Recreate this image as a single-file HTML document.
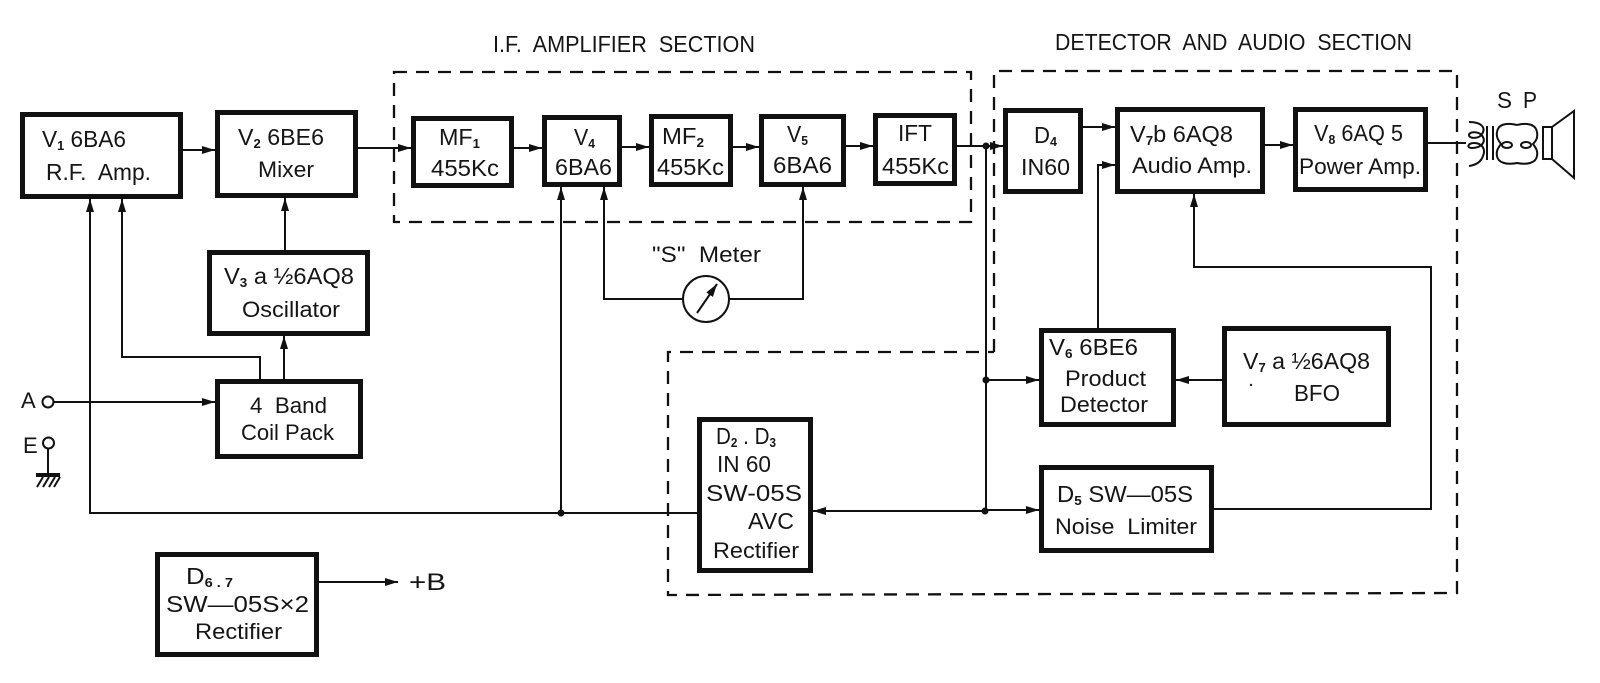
<!DOCTYPE html>
<html><head><meta charset="utf-8"><title>Receiver block diagram</title>
<style>
html,body{margin:0;padding:0;background:#fff;width:1600px;height:683px;overflow:hidden}
svg{display:block}
text{font-family:"Liberation Sans",sans-serif;font-size:23px;fill:#151515;white-space:pre}
.b{fill:#fff;stroke:#111;stroke-width:5}
.l{fill:none;stroke:#111;stroke-width:2}
.h{fill:none;stroke:#111;stroke-width:2}
.d{fill:none;stroke:#111;stroke-width:2.3;stroke-dasharray:13 9}
.s{font-size:13px;font-weight:bold}
</style></head><body>
<svg width="1600" height="683" viewBox="0 0 1600 683" xmlns="http://www.w3.org/2000/svg">
<defs><marker id="a" markerUnits="userSpaceOnUse" markerWidth="14" markerHeight="10" refX="13" refY="5" orient="auto"><path d="M0 1 L13 5 L0 9 Z" fill="#111"/></marker></defs>

<!-- dashed sections -->
<path class="d" d="M394 72 H971 V222 H394 Z"/>
<path class="d" d="M994 352 V71 H1457 V593 L668 595 V352 H994"/>

<!-- connectors -->
<g class="l">
<path d="M183 150 H215" marker-end="url(#a)"/>
<path d="M358 148 H411" marker-end="url(#a)"/>
<path d="M285 250 V198" marker-end="url(#a)"/>
<path d="M284 379 V336" marker-end="url(#a)"/>
<path d="M260 379 V357 H122 V199" marker-end="url(#a)"/>
<path d="M697 513 H90 V199" marker-end="url(#a)"/>
<path d="M53 402 H215" marker-end="url(#a)"/>
<path d="M319 582 H398" marker-end="url(#a)"/>
<path d="M514 148 H542" marker-end="url(#a)"/>
<path d="M622 147 H649" marker-end="url(#a)"/>
<path d="M733 147 H759" marker-end="url(#a)"/>
<path d="M846 146 H873" marker-end="url(#a)"/>
<path d="M957 146 H1003" marker-end="url(#a)"/>
<path d="M561 513 V187" marker-end="url(#a)"/>
<path d="M683 299 H604 V187" marker-end="url(#a)"/>
<path d="M729 299 H803 V187" marker-end="url(#a)"/>
<path d="M986 146 V511"/>
<path d="M986 380 H1039" marker-end="url(#a)"/>
<path d="M985 510 H1039" marker-end="url(#a)"/>
<path d="M985 511 H813" marker-end="url(#a)"/>
<path d="M1222 380 H1176" marker-end="url(#a)"/>
<path d="M1083 127 H1115" marker-end="url(#a)"/>
<path d="M1098 328 V165 H1115" marker-end="url(#a)"/>
<path d="M1265 145 H1293" marker-end="url(#a)"/>
<path d="M1214 509 H1431 V267 H1194 V194" marker-end="url(#a)"/>
<path d="M1428 143 H1466"/>
</g>
<circle cx="561" cy="513" r="3.5" fill="#111"/>
<circle cx="986" cy="146" r="3.5" fill="#111"/>
<circle cx="986" cy="380" r="3.5" fill="#111"/>
<circle cx="985" cy="511" r="3.5" fill="#111"/>

<!-- boxes (outer edge inset by half stroke) -->
<rect class="b" x="22.500" y="114.500" width="158" height="82"/>
<rect class="b" x="217.500" y="112.500" width="138" height="83"/>
<rect class="b" x="209.500" y="252.500" width="158" height="81"/>
<rect class="b" x="217.500" y="381.500" width="143" height="75"/>
<rect class="b" x="157.500" y="554.500" width="159" height="100"/>
<rect class="b" x="413.500" y="118.500" width="98" height="67"/>
<rect class="b" x="544.500" y="117.500" width="75" height="67"/>
<rect class="b" x="651.500" y="116.500" width="79" height="68"/>
<rect class="b" x="761.500" y="116.500" width="82" height="68"/>
<rect class="b" x="875.500" y="115.500" width="79" height="68"/>
<rect class="b" x="1005.500" y="110.500" width="75" height="81"/>
<rect class="b" x="1117.500" y="109.500" width="145" height="82"/>
<rect class="b" x="1295.500" y="109.500" width="130" height="80"/>
<rect class="b" x="1041.500" y="330.500" width="132" height="94"/>
<rect class="b" x="1224.500" y="328.500" width="164" height="96"/>
<rect class="b" x="1041.500" y="467.500" width="170" height="83"/>
<rect class="b" x="699.500" y="419.500" width="111" height="151"/>

<!-- titles -->
<text x="493" y="52" textLength="262" lengthAdjust="spacingAndGlyphs">I.F.  AMPLIFIER  SECTION</text>
<text x="1055" y="50" textLength="357" lengthAdjust="spacingAndGlyphs">DETECTOR  AND  AUDIO  SECTION</text>

<!-- labels -->
<text x="42" y="147" textLength="84" lengthAdjust="spacingAndGlyphs">V<tspan class="s" dy="3">1</tspan><tspan dy="-3"> 6BA6</tspan></text>
<text x="46" y="180" textLength="105" lengthAdjust="spacingAndGlyphs">R.F.  Amp.</text>
<text x="238" y="145" textLength="86" lengthAdjust="spacingAndGlyphs">V<tspan class="s" dy="3">2</tspan><tspan dy="-3"> 6BE6</tspan></text>
<text x="258" y="177" textLength="56" lengthAdjust="spacingAndGlyphs" style="font-size:22px">Mixer</text>
<text x="224" y="284" textLength="130" lengthAdjust="spacingAndGlyphs">V<tspan class="s" dy="3">3</tspan><tspan dy="-3"> a ½6AQ8</tspan></text>
<text x="242" y="317" textLength="98" lengthAdjust="spacingAndGlyphs" style="font-size:22px">Oscillator</text>
<text x="250" y="413" textLength="77" lengthAdjust="spacingAndGlyphs" style="font-size:22px">4  Band</text>
<text x="241" y="440" textLength="93" lengthAdjust="spacingAndGlyphs" style="font-size:22px">Coil Pack</text>
<text x="186" y="584" textLength="47" lengthAdjust="spacingAndGlyphs">D<tspan class="s" dy="3">6 . 7</tspan></text>
<text x="166" y="612" textLength="143" lengthAdjust="spacingAndGlyphs">SW—05S×2</text>
<text x="195" y="639" textLength="87" lengthAdjust="spacingAndGlyphs" style="font-size:22px">Rectifier</text>
<text x="439" y="145" textLength="41" lengthAdjust="spacingAndGlyphs">MF<tspan class="s" dy="3">1</tspan></text>
<text x="431" y="176" textLength="68" lengthAdjust="spacingAndGlyphs">455Kc</text>
<text x="574" y="145" textLength="21" lengthAdjust="spacingAndGlyphs">V<tspan class="s" dy="3">4</tspan></text>
<text x="555" y="175" textLength="57" lengthAdjust="spacingAndGlyphs">6BA6</text>
<text x="662" y="144" textLength="42" lengthAdjust="spacingAndGlyphs">MF<tspan class="s" dy="3">2</tspan></text>
<text x="657" y="175" textLength="67" lengthAdjust="spacingAndGlyphs">455Kc</text>
<text x="787" y="142" textLength="21" lengthAdjust="spacingAndGlyphs">V<tspan class="s" dy="3">5</tspan></text>
<text x="773" y="173" textLength="59" lengthAdjust="spacingAndGlyphs">6BA6</text>
<text x="898" y="141" textLength="34" lengthAdjust="spacingAndGlyphs">IFT</text>
<text x="882" y="174" textLength="67" lengthAdjust="spacingAndGlyphs">455Kc</text>
<text x="1034" y="143" textLength="23" lengthAdjust="spacingAndGlyphs">D<tspan class="s" dy="3">4</tspan></text>
<text x="1021" y="175" textLength="49" lengthAdjust="spacingAndGlyphs">IN60</text>
<text x="1130" y="142" textLength="103" lengthAdjust="spacingAndGlyphs">V<tspan class="s" dy="3">7</tspan><tspan dy="-3">b 6AQ8</tspan></text>
<text x="1132" y="173" textLength="120" lengthAdjust="spacingAndGlyphs" style="font-size:22px">Audio Amp.</text>
<text x="1314" y="141" textLength="89" lengthAdjust="spacingAndGlyphs">V<tspan class="s" dy="3">8</tspan><tspan dy="-3"> 6AQ 5</tspan></text>
<text x="1299" y="174" textLength="122" lengthAdjust="spacingAndGlyphs" style="font-size:22px">Power Amp.</text>
<text x="1049" y="355" textLength="89" lengthAdjust="spacingAndGlyphs">V<tspan class="s" dy="3">6</tspan><tspan dy="-3"> 6BE6</tspan></text>
<text x="1065" y="386" textLength="81" lengthAdjust="spacingAndGlyphs" style="font-size:22px">Product</text>
<text x="1060" y="412" textLength="88" lengthAdjust="spacingAndGlyphs" style="font-size:22px">Detector</text>
<text x="1243" y="369" textLength="127" lengthAdjust="spacingAndGlyphs">V<tspan class="s" dy="3">7</tspan><tspan dy="-3"> a ½6AQ8</tspan></text>
<text x="1294" y="401" textLength="46" lengthAdjust="spacingAndGlyphs">BFO</text>
<circle cx="1251" cy="385" r="1.2" fill="#222"/>
<text x="1057" y="502" textLength="136" lengthAdjust="spacingAndGlyphs">D<tspan class="s" dy="3">5</tspan><tspan dy="-3"> SW—05S</tspan></text>
<text x="1055" y="534" textLength="142" lengthAdjust="spacingAndGlyphs" style="font-size:22px">Noise  Limiter</text>
<text x="716" y="444" textLength="60" lengthAdjust="spacingAndGlyphs">D<tspan class="s" dy="3">2</tspan><tspan dy="-3"> . D</tspan><tspan class="s" dy="3">3</tspan></text>
<text x="717" y="472" textLength="54" lengthAdjust="spacingAndGlyphs">IN 60</text>
<text x="706" y="501" textLength="96" lengthAdjust="spacingAndGlyphs">SW-05S</text>
<text x="748" y="529" textLength="46" lengthAdjust="spacingAndGlyphs">AVC</text>
<text x="713" y="558" textLength="86" lengthAdjust="spacingAndGlyphs" style="font-size:22px">Rectifier</text>
<text x="652" y="262" textLength="109" lengthAdjust="spacingAndGlyphs" style="font-size:22px">"S"  Meter</text>
<text x="21" y="408" style="font-size:22px">A</text>
<text x="23" y="453" style="font-size:22px">E</text>
<text x="409" y="590" textLength="37" lengthAdjust="spacingAndGlyphs" style="font-size:24px">+B</text>
<text x="1497" y="108" textLength="15" lengthAdjust="spacingAndGlyphs">S</text>
<text x="1523" y="108" textLength="14" lengthAdjust="spacingAndGlyphs">P</text>

<!-- A / E terminals -->
<circle cx="48" cy="402" r="5.500" fill="#fff" stroke="#111" stroke-width="2"/>
<circle cx="48.500" cy="443" r="5.500" fill="#fff" stroke="#111" stroke-width="2"/>
<path class="l" d="M48 449 V475"/>
<path d="M36 475 H60" stroke="#111" stroke-width="4" fill="none"/>
<path d="M43 477 L37 487 M49 477 L43 487 M55 477 L49 487 M60 477 L54 487" class="l"/>

<!-- S meter -->
<circle cx="706" cy="299" r="23" fill="#fff" stroke="#111" stroke-width="2"/>
<path class="l" d="M697 313 L717 284" marker-end="url(#a)"/>

<!-- transformer and speaker -->
<g class="h">
<path d="M1469 122 C1482 122 1486 128 1482 134 C1479 139 1469 139 1469 135 C1469 131 1480 131 1483 137 C1486 143 1480 148 1472 148 C1466 148 1468 143 1474 143 C1482 143 1486 149 1483 156 C1481 162 1476 165 1469 166"/>
<path d="M1487 126 V160 M1493 126 V160"/>
<path d="M1517 125 C1505 122 1498 125 1497 132 C1496 138 1499 141 1501 144 C1498 148 1496 151 1497 156 C1498 163 1507 165 1517 163 C1527 165 1536 163 1537 156 C1538 151 1536 148 1533 144 C1536 141 1538 138 1537 132 C1536 125 1528 122 1517 125"/>
<ellipse cx="1507" cy="145" rx="5" ry="3"/>
<ellipse cx="1526" cy="145" rx="5" ry="3"/>
<rect x="1543" y="127" width="9" height="32"/>
<path d="M1552 127 L1574 111 V178 L1552 159"/>
</g>
</svg>
</body></html>
